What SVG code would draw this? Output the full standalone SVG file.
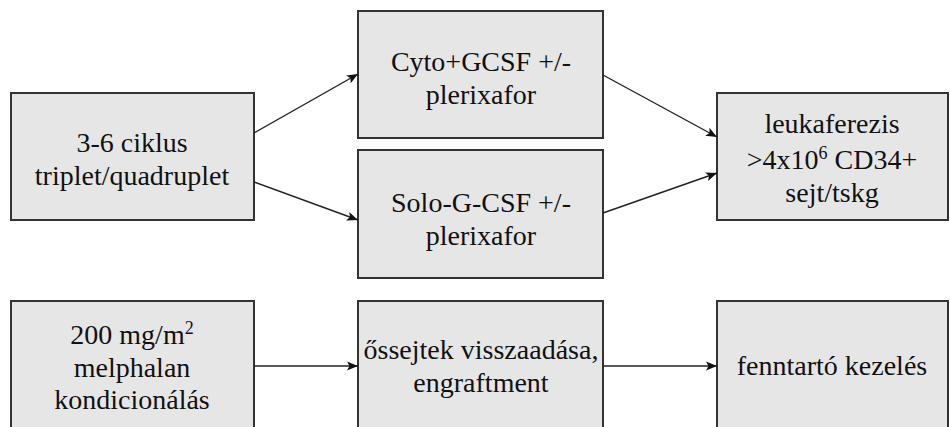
<svg xmlns="http://www.w3.org/2000/svg" width="950" height="427" viewBox="0 0 950 427">
<style>
.box{fill:#e6e6e6;stroke:#333;stroke-width:2}
.sup{font-size:18px}
.c{stroke:#222;stroke-width:1.4;fill:none;marker-end:url(#ah)}
</style>
<defs>
<marker id="ah" markerUnits="userSpaceOnUse" markerWidth="12" markerHeight="10" refX="11" refY="5" orient="auto">
<path d="M0,0.5 L11,5 L0,9.5 L2.5,5 z" fill="#111"/>
</marker>
</defs>
<rect width="950" height="427" fill="#fff"/>
<g id="nodes" font-family="Liberation Serif" font-size="28" fill="#111" text-anchor="middle">
<g id="n1"><rect class="box" x="11" y="93" width="243" height="127"/>
<text x="132" y="152" font-family="Liberation Serif">3-6 ciklus</text><text x="132" y="185" font-family="Liberation Serif">triplet/quadruplet</text></g>
<g id="n2"><rect class="box" x="358" y="11" width="245" height="127"/>
<text x="481" y="71" font-family="Liberation Serif">Cyto+GCSF +/-</text><text x="481" y="104" font-family="Liberation Serif">plerixafor</text></g>
<g id="n3"><rect class="box" x="358" y="150" width="245" height="128"/>
<text x="481" y="212" font-family="Liberation Serif">Solo-G-CSF +/-</text><text x="481" y="245" font-family="Liberation Serif">plerixafor</text></g>
<g id="n4"><rect class="box" x="717" y="93" width="231" height="127"/>
<text x="832" y="133" font-family="Liberation Serif">leukaferezis</text><text x="832" y="169" font-family="Liberation Serif">&gt;4x10<tspan class="sup" dy="-10">6</tspan><tspan dy="10"> CD34+</tspan></text><text x="832" y="202" font-family="Liberation Serif">sejt/tskg</text></g>
<g id="n5"><rect class="box" x="11" y="301" width="243" height="140"/>
<text x="132" y="344" font-family="Liberation Serif">200 mg/m<tspan class="sup" dy="-10">2</tspan></text><text x="132" y="377" font-family="Liberation Serif">melphalan</text><text x="132" y="409" font-family="Liberation Serif">kondicionálás</text></g>
<g id="n6"><rect class="box" x="358" y="301" width="245" height="140"/>
<text x="481" y="359" font-family="Liberation Serif">őssejtek visszaadása,</text><text x="481" y="392" font-family="Liberation Serif">engraftment</text></g>
<g id="n7"><rect class="box" x="717" y="301" width="231" height="140"/>
<text x="832" y="375" font-family="Liberation Serif">fenntartó kezelés</text></g>
</g>
<g id="connectors">
<line class="c" x1="254" y1="133" x2="358" y2="74"/>
<line class="c" x1="254" y1="182" x2="358" y2="220"/>
<line class="c" x1="603" y1="75" x2="717" y2="137"/>
<line class="c" x1="603" y1="213" x2="717" y2="173"/>
<line class="c" x1="254" y1="366" x2="358" y2="366"/>
<line class="c" x1="603" y1="366" x2="717" y2="366"/>
</g>
</svg>
